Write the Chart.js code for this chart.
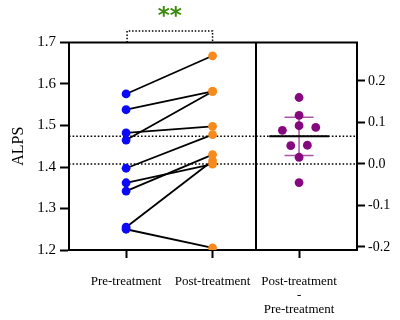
<!DOCTYPE html>
<html>
<head>
<meta charset="utf-8">
<script src="https://cdn.jsdelivr.net/npm/chart.js@4"></script>
<style>
  html, body { margin: 0; padding: 0; background: #fff; }
  #wrap { width: 400px; height: 320px; }
</style>
</head>
<body>
<div id="wrap"><canvas id="alpsChart"></canvas></div>
<script>
// groups on the x axis
const groupLabels = ["Pre-treatment", "Post-treatment", ["Post-treatment", "-", "Pre-treatment"]];
const groupPos = [1, 2, 3];

// paired ALPS values, one entry per subject
const preValues = [1.576, 1.538, 1.482, 1.465, 1.397, 1.362, 1.342, 1.255, 1.250];
const postValues = [1.668, 1.582, 1.498, 1.582, 1.478, 1.407, 1.430, 1.415, 1.205];

// horizontal spread of the difference points (in group units)
const diffJitter = [0, -0.096, 0, 0, -0.193, 0.096, 0.193, 0, 0];

// axis ticks
const leftTicks = [1.2, 1.3, 1.4, 1.5, 1.6, 1.7];
const rightTicks = [-0.2, -0.1, 0.0, 0.1, 0.2];

const BLUE = "#0a0af5";
const ORANGE = "#f78a1c";
const PURPLE = "#86087f";
const PURPLE_LIGHT = "#a957a6";
const SERIF = "'Liberation Serif', 'DejaVu Serif', serif";

// stats
function mean(a) { return a.reduce((s, v) => s + v, 0) / a.length; }
const diffs = postValues.map((v, i) => v - preValues[i]);
const preMean = mean(preValues);
const postMean = mean(postValues);
const diffMean = mean(diffs);
const diffSd = Math.sqrt(diffs.reduce((s, v) => s + (v - diffMean) ** 2, 0) / (diffs.length - 1));
const ci95 = 2.306 * diffSd / Math.sqrt(diffs.length); // t(0.975, df=8)

const xMin = 0.34, xMax = 3.67;
const yMin = 1.2, yMax = 1.7;
// right axis is the left axis shifted so 0 sits on the pre-treatment mean
const y2Min = yMin - preMean, y2Max = yMax - preMean;

// one line per subject
const pairSets = preValues.map((p, i) => ({
  type: "line",
  data: [{ x: groupPos[0], y: p }, { x: groupPos[1], y: postValues[i] }],
  borderColor: "#000",
  borderWidth: 1.8,
  pointRadius: 4.4,
  pointBorderWidth: 0,
  pointBackgroundColor: [BLUE, ORANGE],
  yAxisID: "y",
  order: 2
}));

const dotted = (y) => ({
  type: "line",
  data: [{ x: xMin, y }, { x: xMax, y }],
  borderColor: "#000",
  borderWidth: 1.5,
  borderDash: [1.6, 2],
  pointRadius: 0,
  yAxisID: "y",
  order: 5
});

const datasets = [
  dotted(preMean),
  dotted(postMean),
  ...pairSets,
  {
    type: "scatter",
    data: diffs.map((d, i) => ({ x: groupPos[2] + diffJitter[i], y: d })),
    pointRadius: 4.4,
    pointBorderWidth: 0,
    pointBackgroundColor: PURPLE,
    yAxisID: "y2",
    order: 1
  },
  { // mean bar
    type: "line",
    data: [{ x: groupPos[2] - 0.345, y: diffMean }, { x: groupPos[2] + 0.345, y: diffMean }],
    borderColor: "#000", borderWidth: 2, pointRadius: 0, yAxisID: "y2", order: 3
  },
  { // 95% CI whisker
    type: "line",
    data: [{ x: groupPos[2], y: diffMean - ci95 }, { x: groupPos[2], y: diffMean + ci95 }],
    borderColor: PURPLE_LIGHT, borderWidth: 1.5, pointRadius: 0, yAxisID: "y2", order: 4
  },
  {
    type: "line",
    data: [{ x: groupPos[2] - 0.168, y: diffMean + ci95 }, { x: groupPos[2] + 0.168, y: diffMean + ci95 }],
    borderColor: PURPLE_LIGHT, borderWidth: 1.5, pointRadius: 0, yAxisID: "y2", order: 4
  },
  {
    type: "line",
    data: [{ x: groupPos[2] - 0.168, y: diffMean - ci95 }, { x: groupPos[2] + 0.168, y: diffMean - ci95 }],
    borderColor: PURPLE_LIGHT, borderWidth: 1.5, pointRadius: 0, yAxisID: "y2", order: 4
  }
];

// frame top, panel divider, significance bracket
const extras = {
  id: "extras",
  afterDatasetsDraw(chart) {
    const { ctx, chartArea: a, scales } = chart;
    const x = scales.x;
    ctx.save();
    ctx.strokeStyle = "#000";
    ctx.lineWidth = 2;
    ctx.beginPath();
    ctx.moveTo(a.left - 1, a.top);
    ctx.lineTo(a.right + 1, a.top);
    const xd = Math.round(x.getPixelForValue(2.5));
    ctx.moveTo(xd, a.top);
    ctx.lineTo(xd, a.bottom);
    ctx.stroke();

    // bracket between pre and post
    const x1 = x.getPixelForValue(groupPos[0]) + 1;
    const x2 = x.getPixelForValue(groupPos[1]);
    const yb = a.top - 11.5;
    ctx.lineWidth = 1.5;
    ctx.setLineDash([1.5, 1.8]);
    ctx.beginPath();
    ctx.moveTo(x1, a.top);
    ctx.lineTo(x1, yb);
    ctx.lineTo(x2, yb);
    ctx.lineTo(x2, a.top);
    ctx.stroke();
    ctx.setLineDash([]);

    ctx.fillStyle = "#3f8a0e";
    ctx.font = "bold 23px 'DejaVu Sans', sans-serif";
    ctx.textAlign = "center";
    ctx.textBaseline = "middle";
    ctx.fillText("**", (x1 + x2) / 2, a.top - 25);
    ctx.restore();
  }
};

new Chart(document.getElementById("alpsChart"), {
  type: "line",
  data: { datasets },
  options: {
    responsive: true,
    maintainAspectRatio: false,
    animation: false,
    layout: { padding: { top: 42.5, left: 0, right: 0, bottom: 0 } },
    plugins: { legend: { display: false }, tooltip: { enabled: false } },
    scales: {
      x: {
        type: "linear",
        min: xMin,
        max: xMax,
        afterBuildTicks: (s) => { s.ticks = groupPos.map((v) => ({ value: v })); },
        afterFit: (s) => { s.height = 70; },
        ticks: {
          color: "#000",
          padding: 16,
          font: { family: SERIF, size: 13, lineHeight: 1.1 },
          callback: (v) => groupLabels[groupPos.indexOf(v)]
        },
        grid: { drawOnChartArea: false, tickLength: 8, tickWidth: 2, color: "#000" },
        border: { display: true, color: "#000", width: 2 }
      },
      y: {
        position: "left",
        min: yMin,
        max: yMax,
        afterBuildTicks: (s) => { s.ticks = leftTicks.map((v) => ({ value: v })); },
        afterFit: (s) => { s.width = 69; },
        ticks: {
          color: "#000",
          padding: 4,
          font: { family: SERIF, size: 15 },
          callback: (v) => v.toFixed(1)
        },
        title: { display: true, text: "ALPS", color: "#000", font: { family: SERIF, size: 16 }, padding: { top: 9, bottom: 0 } },
        grid: { drawOnChartArea: false, tickLength: 9, tickWidth: 2, color: "#000" },
        border: { display: true, color: "#000", width: 2 }
      },
      y2: {
        position: "right",
        min: y2Min,
        max: y2Max,
        afterBuildTicks: (s) => { s.ticks = rightTicks.map((v) => ({ value: v })); },
        afterFit: (s) => { s.width = 43; },
        ticks: {
          color: "#000",
          padding: 3,
          font: { family: SERIF, size: 14 },
          callback: (v) => v.toFixed(1)
        },
        grid: { drawOnChartArea: false, tickLength: 8, tickWidth: 2, color: "#000" },
        border: { display: true, color: "#000", width: 2 }
      }
    }
  },
  plugins: [extras]
});
</script>
</body>
</html>
